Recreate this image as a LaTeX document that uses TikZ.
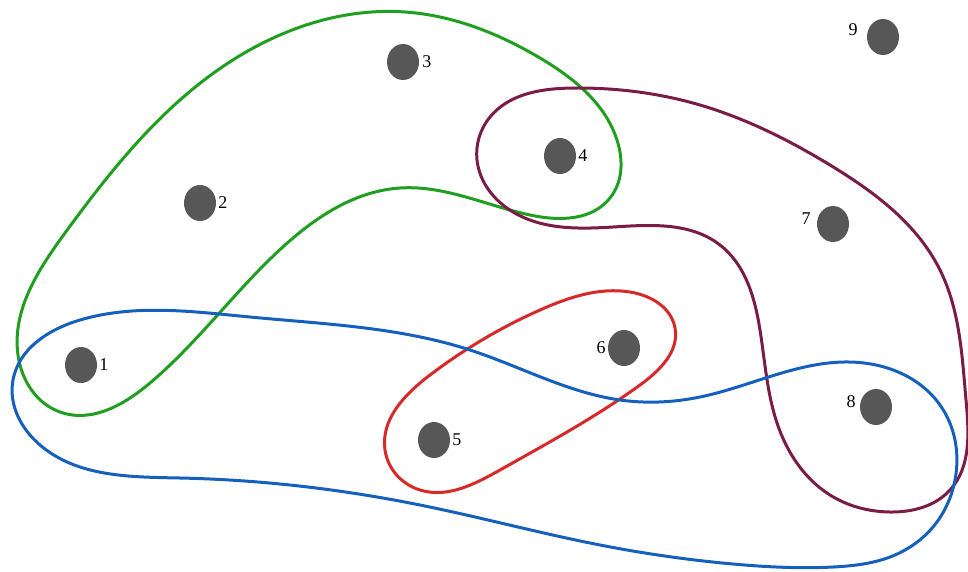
\documentclass[tikz,border=0pt]{standalone}
\usepackage{fontspec}
\setmainfont{Liberation Serif}
\usepackage{xcolor}
\usepackage{tikz}
\usetikzlibrary{positioning, shapes.geometric, hobby}

\definecolor{dotgray}{HTML}{575757}
\definecolor{edgegreen}{HTML}{1F9E1F}
\definecolor{edgeplum}{HTML}{7A1C45}
\definecolor{edgered}{HTML}{D62A2A}
\definecolor{edgeblue}{HTML}{1560BD}

\begin{document}
\begin{tikzpicture}[
        x=1pt, y=-1pt,
        vtx/.style={ellipse, fill=dotgray, minimum width=32pt, minimum height=36pt, inner sep=0pt},
        lbl/.style={inner sep=0pt, font=\fontsize{18}{20}\selectfont},
        hedge/.style={draw=#1, line width=3pt, use Hobby shortcut, closed=true},
    ]
    \useasboundingbox (0,0) rectangle (968,571);

    % Vertices
    \node[vtx] (v1) at (81,365) {};
    \node[vtx] (v2) at (200,203) {};
    \node[vtx] (v3) at (403,62) {};
    \node[vtx] (v4) at (560,156) {};
    \node[vtx] (v5) at (434,440) {};
    \node[vtx] (v6) at (624,348) {};
    \node[vtx] (v7) at (833,224) {};
    \node[vtx] (v8) at (876,407) {};
    \node[vtx] (v9) at (883,37) {};

    % Vertex labels
    \node[lbl, right=2pt of v1] (l1) {1};
    \node[lbl, right=2pt of v2] (l2) {2};
    \node[lbl, right=3pt of v3] (l3) {3};
    \node[lbl, right=2pt of v4] (l4) {4};
    \node[lbl, right=2pt of v5] (l5) {5};
    \node[lbl, left=2pt of v6] (l6) {6};
    \node[lbl, left=6pt of v7, yshift=5pt] (l7) {7};
    \node[lbl, left=4pt of v8, yshift=5pt] (l8) {8};
    \node[lbl, left=9pt of v9, yshift=7pt] (l9) {9};

    % Hyperedges
    \draw[hedge=edgegreen] (405,12) .. (215,72) .. (65,233) .. (18,355)
        .. (60,412) .. (150,383) .. (285,245) .. (400,188) .. (530,215)
        .. (610,198) .. (617,140) .. (540,58);
    \draw[hedge=edgeplum] (575,88) .. (490,117) .. (477,160) .. (513,212)
        .. (613,227) .. (720,245) .. (760,330) .. (777,423) .. (830,495)
        .. (890,512) .. (950,490) .. (966,400) .. (940,270) .. (830,165)
        .. (700,105);
    \draw[hedge=edgered] (630,292) .. (675,328) .. (640,385) .. (500,470)
        .. (420,490) .. (385,450) .. (430,375) .. (540,310);
    \draw[hedge=edgeblue] (13,380) .. (80,320) .. (250,317) .. (470,350)
        .. (620,400) .. (700,397) .. (850,362) .. (940,405) .. (955,480)
        .. (933,527) .. (895,555) .. (833,567) .. (733,564) .. (600,545)
        .. (420,505) .. (180,478) .. (40,445);
\end{tikzpicture}
\end{document}
